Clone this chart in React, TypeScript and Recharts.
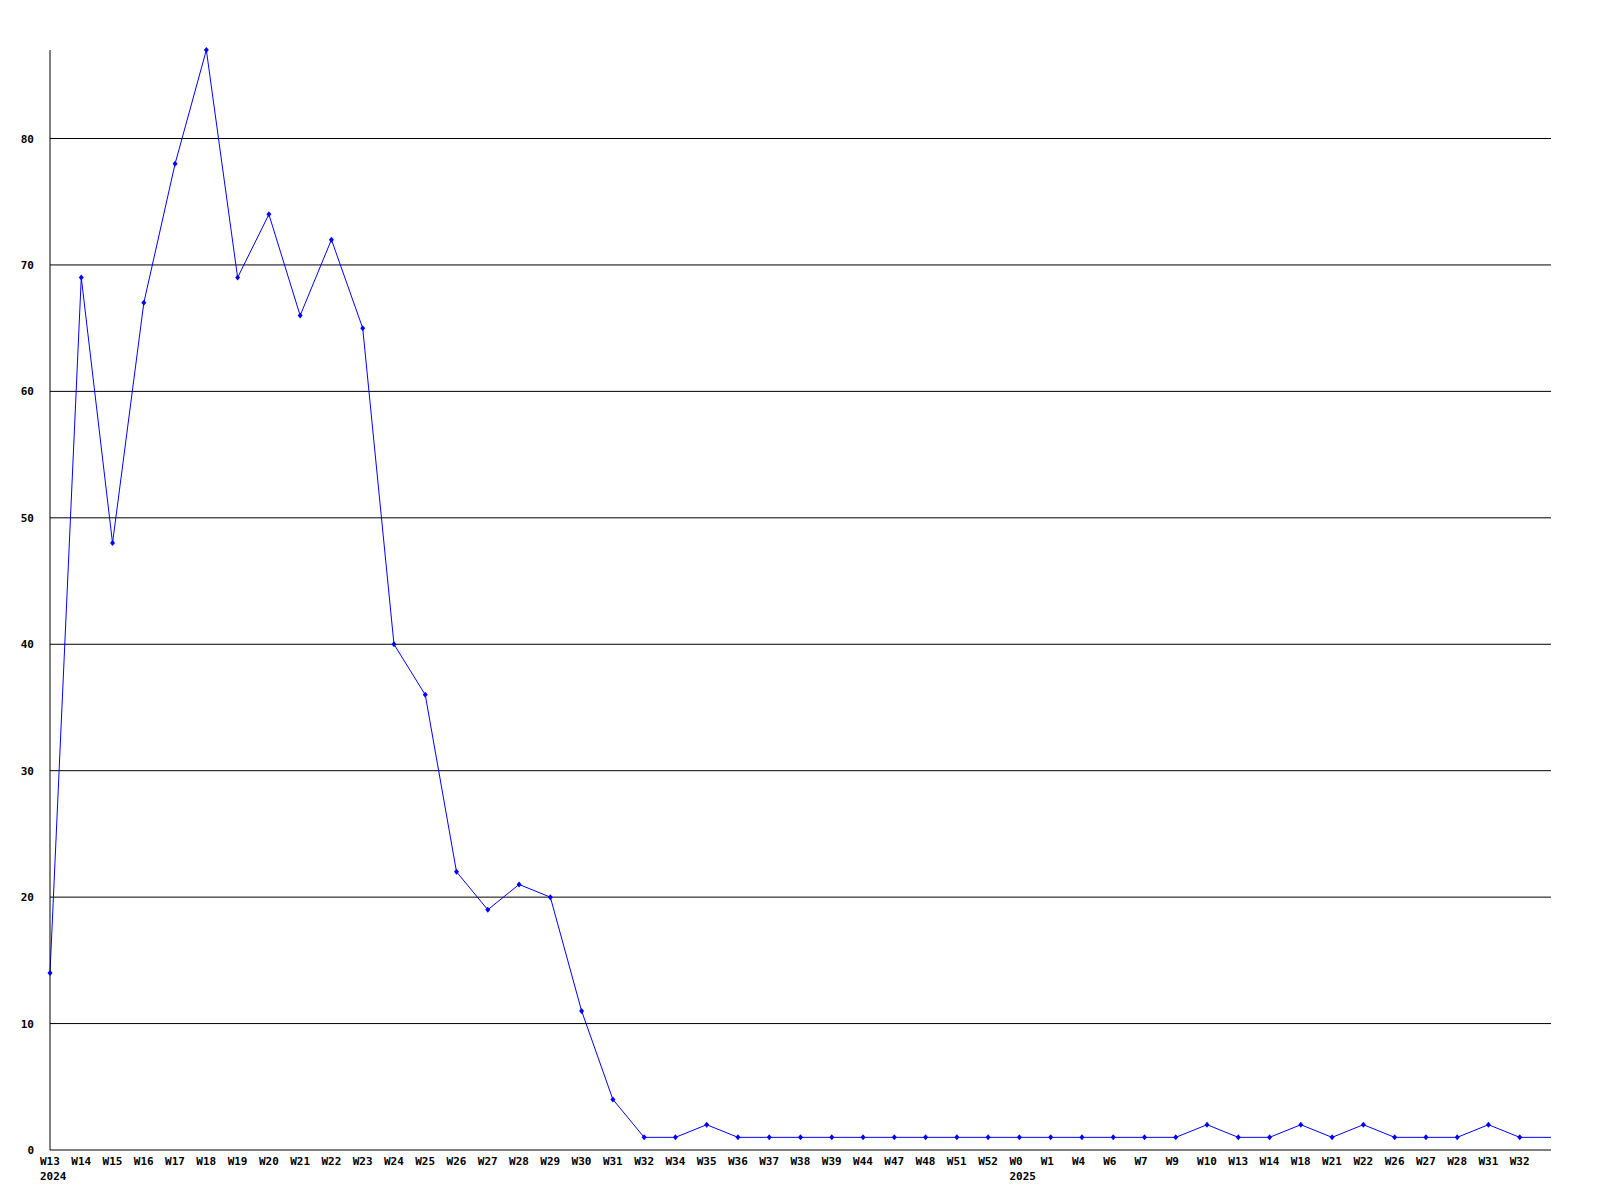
import React from "react";
import { LineChart, Line, XAxis, YAxis, ReferenceLine } from "recharts";

const weeks = [
  "W13", "W14", "W15", "W16", "W17", "W18", "W19", "W20", "W21", "W22",
  "W23", "W24", "W25", "W26", "W27", "W28", "W29", "W30", "W31", "W32",
  "W34", "W35", "W36", "W37", "W38", "W39", "W44", "W47", "W48", "W51",
  "W52", "W0", "W1", "W4", "W6", "W7", "W9", "W10", "W13", "W14",
  "W18", "W21", "W22", "W26", "W27", "W28", "W31", "W32", "",
];

const counts = [
  14, 69, 48, 67, 78, 87, 69, 74, 66, 72,
  65, 40, 36, 22, 19, 21, 20, 11, 4, 1,
  1, 2, 1, 1, 1, 1, 1, 1, 1, 1,
  1, 1, 1, 1, 1, 1, 1, 2, 1, 1,
  2, 1, 2, 1, 1, 1, 2, 1, 1,
];

const yearLabels: Record<number, string> = { 0: "2024", 31: "2025" };
const markedPoints = 48;

const yTicks = [0, 10, 20, 30, 40, 50, 60, 70, 80];

const data = weeks.map((w, i) => ({ idx: i, week: w, value: counts[i] }));

const FONT = "'DejaVu Sans Mono', monospace";

const XTick = (props: any) => {
  const { x, y, payload } = props;
  const i = payload.value as number;
  const label = weeks[i];
  const year = yearLabels[i];
  return (
    <g>
      <text x={x - 10} y={y + 15} textAnchor="start" fontFamily={FONT} fontWeight="bold" fontSize={11} fill="#000">
        {label}
      </text>
      {year ? (
        <text x={x - 10} y={y + 30} textAnchor="start" fontFamily={FONT} fontWeight="bold" fontSize={11} fill="#000">
          {year}
        </text>
      ) : null}
    </g>
  );
};

const YTick = (props: any) => {
  const { x, y, payload } = props;
  return (
    <text x={x} y={y + 4} textAnchor="end" fontFamily={FONT} fontWeight="bold" fontSize={11} fill="#000">
      {payload.value}
    </text>
  );
};

const Dot = (props: any) => {
  const { cx, cy, index } = props;
  if (index >= markedPoints || cx == null || cy == null) return <g key={index} />;
  return (
    <polygon
      key={index}
      points={`${cx},${cy - 3} ${cx + 2.5},${cy} ${cx},${cy + 3} ${cx - 2.5},${cy}`}
      fill="#0000ff"
    />
  );
};

export default function App() {
  return (
    <div style={{ position: "absolute", left: 0, top: 0, width: 1600, height: 1200, background: "#fff" }}>
      <LineChart width={1600} height={1200} data={data} margin={{ top: 50, right: 49, bottom: 0, left: 0 }}>
        <XAxis
          dataKey="idx"
          type="category"
          interval={0}
          height={50}
          tickLine={false}
          tickSize={0}
          tickMargin={0}
          axisLine={{ stroke: "#000", strokeWidth: 1 }}
          tick={<XTick />}
          padding={{ left: 0, right: 0 }}
        />
        <YAxis
          type="number"
          domain={[0, 87]}
          ticks={yTicks}
          width={50}
          tickLine={false}
          tickSize={0}
          tickMargin={16}
          axisLine={{ stroke: "#000", strokeWidth: 1 }}
          tick={<YTick />}
          interval={0}
        />
        {yTicks.filter((t) => t > 0).map((t) => (
          <ReferenceLine key={t} y={t} stroke="#000" strokeWidth={1} ifOverflow="visible" />
        ))}
        <Line
          type="linear"
          dataKey="value"
          stroke="#0000ff"
          strokeWidth={1}
          dot={<Dot />}
          activeDot={false}
          isAnimationActive={false}
        />
      </LineChart>
    </div>
  );
}
